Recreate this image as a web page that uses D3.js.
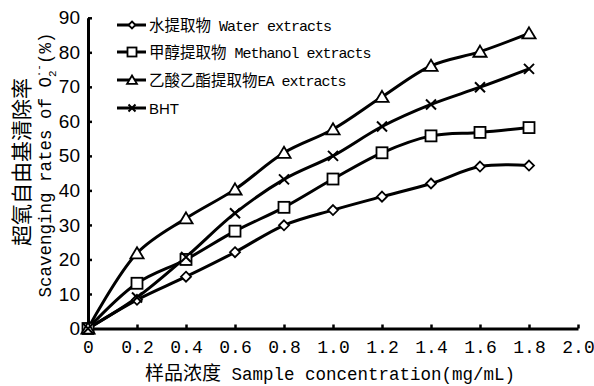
<!DOCTYPE html>
<html>
<head>
<meta charset="utf-8">
<script src="https://cdn.jsdelivr.net/npm/d3@7"></script>
<style>
  body { margin: 0; background: #fff; }
  svg { display: block; }
</style>
</head>
<body>
<svg id="chart" width="594" height="386"></svg>
<script>
// sample concentration (mg/mL)
var conc = [0, 0.2, 0.4, 0.6, 0.8, 1.0, 1.2, 1.4, 1.6, 1.8];
// scavenging rates (%)
var water    = [0, 8.3, 15.0, 22.1, 29.9, 34.3, 38.2, 42.0, 46.9, 47.2];
var methanol = [0, 13.1, 20.0, 28.2, 35.1, 43.3, 50.9, 55.8, 56.8, 58.2];
var ea       = [0, 21.8, 31.9, 40.3, 50.9, 57.7, 67.1, 76.1, 80.2, 85.5];
var bht      = [0, 9.0, 20.7, 33.4, 43.2, 50.0, 58.5, 64.9, 69.9, 75.2];

var xTicks = [0, 0.2, 0.4, 0.6, 0.8, 1.0, 1.2, 1.4, 1.6, 1.8, 2.0];
var yTicks = [0, 10, 20, 30, 40, 50, 60, 70, 80, 90];

var seriesNames = ["水提取物", "甲醇提取物", "乙酸乙酯提取物", "BHT"];
var seriesLatin = [" Water extracts", " Methanol extracts", "EA extracts", ""];
var seriesMarks = ["diamond", "square", "triangle", "cross"];

var svg = d3.select("#chart");
var x = d3.scaleLinear().domain([0, 2.0]).range([88, 578]);
var y = d3.scaleLinear().domain([0, 90]).range([328.5, 17.8]);

// axes
var xAxis = svg.append("g").attr("transform", "translate(0," + y(0) + ")")
  .call(d3.axisBottom(x).tickValues(xTicks).tickSizeInner(-4).tickSizeOuter(0).tickPadding(12)
    .tickFormat(function(d) { return d === 0 ? "0" : d3.format(".1f")(d); }));
xAxis.select(".domain").attr("stroke-width", 3);
xAxis.selectAll(".tick line").attr("stroke-width", 2.5);
xAxis.selectAll("text").attr("font-family", "Liberation Mono, monospace").attr("font-size", 18).attr("fill", "#000");

var yAxis = svg.append("g").attr("transform", "translate(" + x(0) + ",0)")
  .call(d3.axisLeft(y).tickValues(yTicks).tickSizeInner(-4).tickSizeOuter(0).tickPadding(8));
yAxis.select(".domain").attr("stroke-width", 3);
yAxis.selectAll(".tick line").attr("stroke-width", 2.5);
yAxis.selectAll("text").attr("font-family", "Liberation Sans, Arial, sans-serif").attr("font-size", 19).attr("fill", "#000");

// marker drawing
function drawMarker(g, type, s) {
  if (type === "diamond") {
    g.append("path").attr("d", "M0," + (-s) + "L" + s + ",0L0," + s + "L" + (-s) + ",0Z")
      .attr("fill", "#fff").attr("stroke", "#000").attr("stroke-width", 1.8);
  } else if (type === "square") {
    g.append("rect").attr("x", -s).attr("y", -s).attr("width", 2 * s).attr("height", 2 * s)
      .attr("fill", "#fff").attr("stroke", "#000").attr("stroke-width", 1.8);
  } else if (type === "triangle") {
    g.append("path").attr("d", "M0," + (-s) + "L" + (s * 1.1) + "," + (s * 0.85) + "L" + (-s * 1.1) + "," + (s * 0.85) + "Z")
      .attr("fill", "#fff").attr("stroke", "#000").attr("stroke-width", 1.8);
  } else {
    g.append("path").attr("d", "M" + (-s) + "," + (-s) + "L" + s + "," + s + "M" + (-s) + "," + s + "L" + s + "," + (-s))
      .attr("stroke", "#000").attr("stroke-width", 2);
  }
}

var line = d3.line().x(function(d) { return x(d[0]); }).y(function(d) { return y(d[1]); })
  .curve(d3.curveCatmullRom.alpha(0.5));

var allSeries = [water, methanol, ea, bht];
var markSize = { diamond: 5, square: 5.5, triangle: 6, cross: 5 };

allSeries.forEach(function(vals, i) {
  var pts = conc.map(function(c, j) { return [c, vals[j]]; });
  svg.append("path").datum(pts).attr("d", line)
    .attr("fill", "none").attr("stroke", "#000").attr("stroke-width", 3);
});
allSeries.forEach(function(vals, i) {
  conc.forEach(function(c, j) {
    var g = svg.append("g").attr("transform", "translate(" + x(c) + "," + y(vals[j]) + ")");
    drawMarker(g, seriesMarks[i], markSize[seriesMarks[i]]);
  });
});

// legend
var legY = [25, 52, 80, 108];
var legendSize = { diamond: 3.5, square: 4.5, triangle: 4.5, cross: 3.5 };
seriesNames.forEach(function(name, i) {
  var g = svg.append("g").attr("transform", "translate(0," + legY[i] + ")");
  g.append("line").attr("x1", 117).attr("x2", 146).attr("y1", 0).attr("y2", 0)
    .attr("stroke", "#000").attr("stroke-width", 3);
  var m = g.append("g").attr("transform", "translate(132,0)");
  drawMarker(m, seriesMarks[i], legendSize[seriesMarks[i]]);
  var t = g.append("text").attr("x", 149).attr("y", 6);
  if (i === 3) {
    t.attr("font-family", "Liberation Sans Narrow, Liberation Sans, sans-serif").attr("font-size", 15).text(name);
  } else {
    t.append("tspan").attr("font-family", "Noto Sans CJK SC").attr("font-size", 15.5).text(name);
    t.append("tspan").attr("font-family", "Liberation Mono, monospace").attr("font-size", 15)
      .attr("letter-spacing", -1).attr("xml:space", "preserve").text(seriesLatin[i]);
  }
});

// x axis title
var xt = svg.append("text").attr("x", 330).attr("y", 380).attr("text-anchor", "middle");
xt.append("tspan").attr("font-family", "Noto Sans CJK SC").attr("font-size", 19).text("样品浓度");
xt.append("tspan").attr("font-family", "Liberation Mono, monospace").attr("font-size", 17.5)
  .attr("xml:space", "preserve").text(" Sample concentration(mg/mL)");

// y axis title (two lines)
svg.append("text").attr("transform", "translate(29,162) rotate(-90)").attr("text-anchor", "middle")
  .attr("font-family", "Noto Sans CJK SC").attr("font-size", 21).text("超氧自由基清除率");

var yt = svg.append("text").attr("transform", "translate(51,165) rotate(-90)").attr("text-anchor", "middle")
  .attr("font-family", "Liberation Mono, monospace").attr("font-size", 17.5);
yt.append("tspan").attr("xml:space", "preserve").text("Scavenging rates of O");
yt.append("tspan").attr("font-size", 11).attr("dy", 5).text("2");
yt.append("tspan").attr("font-size", 11).attr("dy", -14).attr("dx", -7).text("·-");
yt.append("tspan").attr("dy", 9).attr("xml:space", "preserve").text("(%)");
</script>
</body>
</html>
